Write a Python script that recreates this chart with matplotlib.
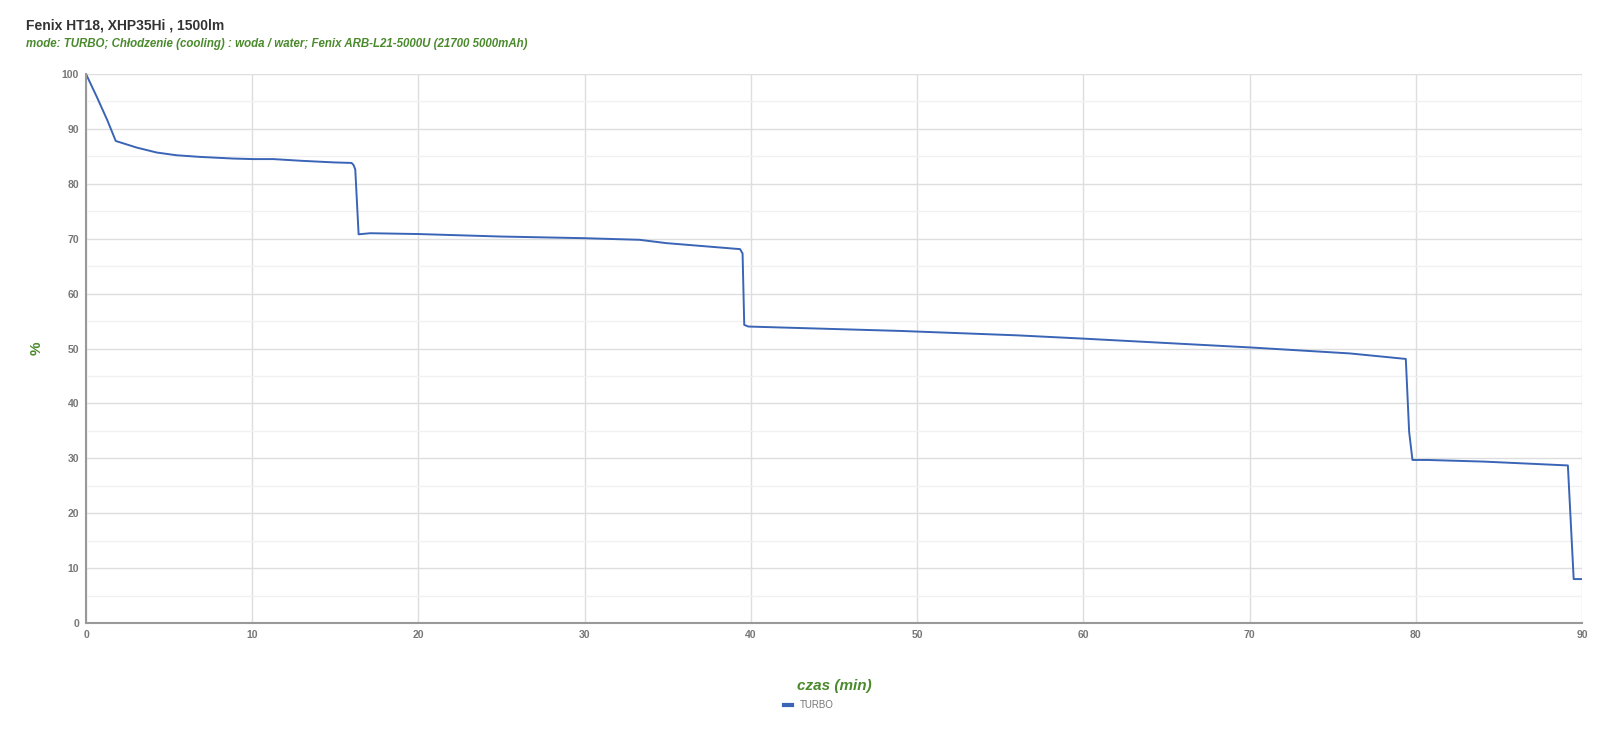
import matplotlib.pyplot as plt
from matplotlib.ticker import MultipleLocator

# dane
czas = [0, 0.64, 1.28, 1.79, 3.05, 4.25, 5.45, 6.86, 8.86, 10.06, 11.27, 12.9, 14.9, 15.98,
        16.1, 16.2, 16.4, 17.1, 20.0, 24.9, 29.9, 33.3, 34.9, 39.35, 39.5, 39.6, 39.85,
        49.0, 56.0, 60.0, 65.0, 70.0, 76.05, 79.4, 79.6, 79.8, 80.7, 84.1, 89.15, 89.5, 90.0]
procent = [100, 95.9, 91.6, 87.8, 86.6, 85.7, 85.2, 84.9, 84.6, 84.5, 84.5, 84.2, 83.9, 83.8,
           83.4, 82.6, 70.8, 71.0, 70.85, 70.4, 70.1, 69.8, 69.2, 68.1, 67.3, 54.3, 54.0,
           53.2, 52.4, 51.8, 51.0, 50.2, 49.1, 48.1, 34.85, 29.7, 29.7, 29.4, 28.7, 8.0, 8.0]

tytul = 'Fenix HT18, XHP35Hi , 1500lm'
podtytul = 'mode: TURBO; Chłodzenie (cooling) : woda / water; Fenix ARB-L21-5000U (21700 5000mAh)'
zielony = '#4a8a2c'
szary = '#777777'

plt.rcParams['font.family'] = ['Liberation Sans', 'DejaVu Sans']

fig = plt.figure(figsize=(16, 7.32), dpi=100)
ax = fig.add_axes([0.05375, 0.1489, 0.935, 0.75])

ax.plot(czas, procent, color='#3a64b5', linewidth=1.4, label='TURBO')

ax.set_xlim(0, 90)
ax.set_ylim(0, 100)
ax.xaxis.set_major_locator(MultipleLocator(10))
ax.yaxis.set_major_locator(MultipleLocator(10))
ax.yaxis.set_minor_locator(MultipleLocator(5))
ax.grid(which='major', color='#dedede', linewidth=1)
ax.grid(which='minor', axis='y', color='#f1f1f1', linewidth=1)
ax.set_axisbelow(True)

for s in ['top', 'right']:
    ax.spines[s].set_visible(False)
for s in ['left', 'bottom']:
    ax.spines[s].set_color('#999999')
    ax.spines[s].set_linewidth(1.5)

ax.tick_params(which='both', length=0, labelsize=7.5, colors=szary, pad=5)
for lab in ax.get_xticklabels() + ax.get_yticklabels():
    lab.set_fontweight('bold')

ax.set_xlabel('czas (min)', fontsize=11, fontweight='bold', fontstyle='italic', color=zielony, labelpad=28)
ax.set_ylabel('%', fontsize=11, fontweight='bold', color=zielony, labelpad=13, rotation=90)

fig.text(0.016, 0.975, tytul, fontsize=10, fontweight='bold', color='#333333', va='top')
fig.text(0.016, 0.948, podtytul, fontsize=8.3, fontweight='bold', fontstyle='italic', color=zielony, va='top')

leg = ax.legend(loc='upper center', bbox_to_anchor=(0.483, -0.125), frameon=False, fontsize=7,
                handlelength=0.8, handletextpad=0.8)
for t in leg.get_texts():
    t.set_color(szary)
for h in leg.get_lines():
    h.set_linewidth(3)

plt.savefig('out.png', dpi=100)
